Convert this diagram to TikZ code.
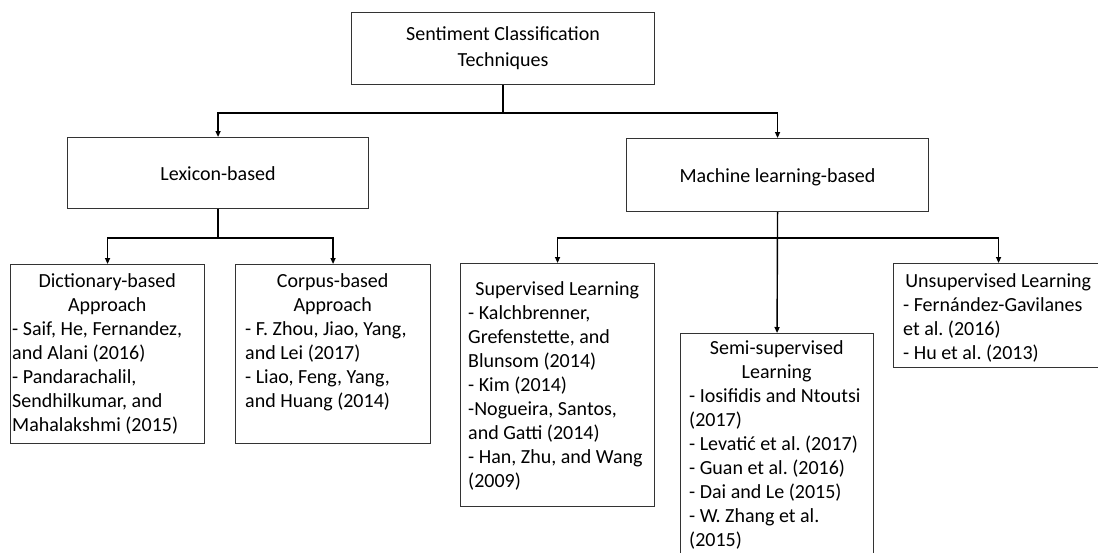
\documentclass[tikz,border=0pt]{standalone}
\usepackage{fontspec}
\setmainfont{Carlito}
\usetikzlibrary{arrows.meta,calc}
\newcommand{\ctl}[2]{\makebox[#1pt][c]{#2}}
\frenchspacing
\begin{document}
\begin{tikzpicture}[x=1pt,y=-1pt,
  box/.style={draw=black!80,line width=1.1pt,rectangle,inner sep=0,anchor=north west},
  txt/.style={inner sep=0,anchor=north west,align=flush left,font=\fontsize{20}{24}\selectfont\frenchspacing},
  ctxt/.style={inner sep=0,align=center,font=\fontsize{20}{26}\selectfont},
  conn/.style={draw=black,line width=1.4pt},
  arr/.style={conn,-{Triangle[length=6pt,width=5pt]}}]
\useasboundingbox (0,0) rectangle (1098,552);
\clip (0,0) rectangle (1098,552);
\fill[white] (0,0) rectangle (1098,552);
% level 0
\node[box,minimum width=303pt,minimum height=72pt] (top) at (351,12) {};
\node[ctxt] (toptxt) at (top.center) {Sentiment Classification\\Techniques};
% level 1
\node[box,minimum width=301pt,minimum height=71pt] (lex) at (67,137) {};
\node[ctxt] (lextxt) at ($(lex.center)+(0,1)$) {Lexicon-based};
\node[box,minimum width=302pt,minimum height=73pt] (ml) at (626,138) {};
\node[ctxt] (mltxt) at ($(ml.center)+(0,2)$) {Machine learning-based};
% level 2
\node[box,minimum width=194pt,minimum height=179pt] (dict) at (10,264) {};
\node[txt,text width=192pt] (dicttxt) at (12,270) {\strut\ctl{190}{Dictionary-based}\\\ctl{190}{Approach}\\- Saif, He, Fernandez,\\and Alani (2016)\\- Pandarachalil,\\Sendhilkumar, and\\Mahalakshmi (2015)};
\node[box,minimum width=195pt,minimum height=179pt] (corp) at (235,264) {};
\node[txt,text width=183pt] (corptxt) at (245,270) {\strut\ctl{175}{Corpus-based}\\\ctl{175}{Approach}\\- F. Zhou, Jiao, Yang,\\and Lei (2017)\\- Liao, Feng, Yang,\\and Huang (2014)};
\node[box,minimum width=194pt,minimum height=243pt] (sup) at (460,263) {};
\node[txt,text width=185pt] (suptxt) at (468,278) {\strut\ctl{178}{Supervised Learning}\\- Kalchbrenner,\\Grefenstette, and\\Blunsom (2014)\\- Kim (2014)\\-Nogueira, Santos,\\and Gatti (2014)\\- Han, Zhu, and Wang\\(2009)};
\node[box,minimum width=193pt,minimum height=240pt] (semi) at (680,333) {};
\node[txt,text width=183pt] (semitxt) at (689,337) {\strut\ctl{175}{Semi-supervised}\\\ctl{175}{Learning}\\- Iosifidis and Ntoutsi\\(2017)\\- Levatić et al. (2017)\\- Guan et al. (2016)\\- Dai and Le (2015)\\- W. Zhang et al.\\(2015)};
\node[box,minimum width=210pt,minimum height=104pt] (uns) at (893,263) {};
\node[txt,text width=200pt] (unstxt) at (903,270) {\strut\ctl{190}{Unsupervised Learning}\\- Fernández-Gavilanes\\et al. (2016)\\- Hu et al. (2013)};
% connectors
\coordinate (j1) at ($(top.south)+(0,28)$);
\draw[conn] (top.south) -- (j1);
\draw[arr] (j1) -| (lex.north);
\draw[arr] (j1) -| (ml.north);
\coordinate (j2) at ($(lex.south)+(0,29)$);
\draw[conn] (lex.south) -- (j2);
\draw[arr] (j2) -| (dict.north);
\draw[arr] (j2) -| (corp.north);
\coordinate (j3) at ($(ml.south)+(0,26)$);
\draw[arr] (ml.south) -- (semi.north);
\draw[arr] (j3) -| (sup.north);
\draw[arr] (j3) -| (uns.north);
\end{tikzpicture}
\end{document}
